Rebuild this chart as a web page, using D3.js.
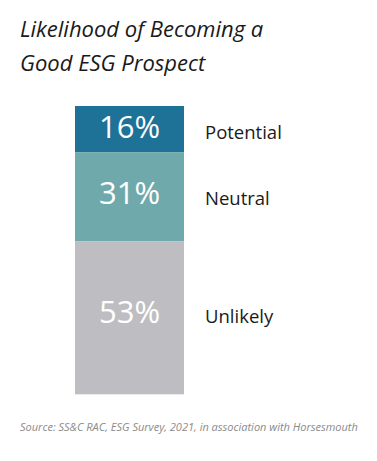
<!DOCTYPE html>
<html>
<head>
<meta charset="utf-8">
<script src="https://cdn.jsdelivr.net/npm/d3@7"></script>
<style>
  body { margin: 0; background: #fff; }
  svg { display: block; }
</style>
</head>
<body>
<div id="graph-container"></div>
<script>
// Chart data
var categories = ["Potential", "Neutral", "Unlikely"];
var values = [16, 31, 53];
var colors = ["#1e7197", "#70a9ab", "#bebec2"];
var titleLines = ["Likelihood of Becoming a", "Good ESG Prospect"];
var source = "Source: SS&C RAC, ESG Survey, 2021, in association with Horsesmouth";

var svgWidth = 377;
var svgHeight = 461;
var font = "'Open Sans', sans-serif";

var svg = d3.select("#graph-container")
  .append("svg")
  .attr("width", svgWidth)
  .attr("height", svgHeight);

// Title
svg.append("g")
  .selectAll("text")
  .data(titleLines)
  .join("text")
  .attr("x", 20)
  .attr("y", function (d, i) { return 37 + i * 34; })
  .style("font-family", font)
  .style("font-style", "italic")
  .style("font-size", "22px")
  .attr("fill", "#1a1a1a")
  .text(function (d) { return d; });

// Stack the values
var stacked = [];
var acc = 0;
values.forEach(function (v, i) {
  stacked.push({ name: categories[i], value: v, y0: acc, y1: acc + v, color: colors[i] });
  acc += v;
});

// Scales
var xScale = d3.scaleBand()
  .domain(["ESG"])
  .range([75, 184]);

var yScale = d3.scaleLinear()
  .domain([0, 100])
  .range([106, 394.3]);

// Segments
var seg = svg.append("g")
  .selectAll("g")
  .data(stacked)
  .join("g");

seg.append("rect")
  .attr("x", xScale("ESG"))
  .attr("width", xScale.bandwidth())
  .attr("y", function (d) { return yScale(d.y0); })
  .attr("height", function (d) { return yScale(d.y1) - yScale(d.y0); })
  .attr("fill", function (d) { return d.color; });

// Percent labels inside the bar
seg.append("text")
  .attr("x", xScale("ESG") + xScale.bandwidth() / 2)
  .attr("y", function (d) { return yScale(d.y0 + d.value * 0.46); })
  .attr("dy", "0.35em")
  .attr("text-anchor", "middle")
  .style("font-family", font)
  .style("font-size", "31px")
  .attr("fill", "#ffffff")
  .text(function (d) { return d.value + "%"; });

// Category labels to the right
seg.append("text")
  .attr("x", 205)
  .attr("y", function (d) { return yScale(d.y0 + d.value * 0.46) + 5; })
  .attr("dy", "0.35em")
  .style("font-family", font)
  .style("font-size", "18.5px")
  .attr("fill", "#1a1a1a")
  .text(function (d) { return d.name; });

// Source note
svg.append("text")
  .attr("x", 20)
  .attr("y", 431)
  .style("font-family", font)
  .style("font-style", "italic")
  .style("font-size", "11px")
  .attr("fill", "#8a8a8a")
  .text(source);
</script>
</body>
</html>
